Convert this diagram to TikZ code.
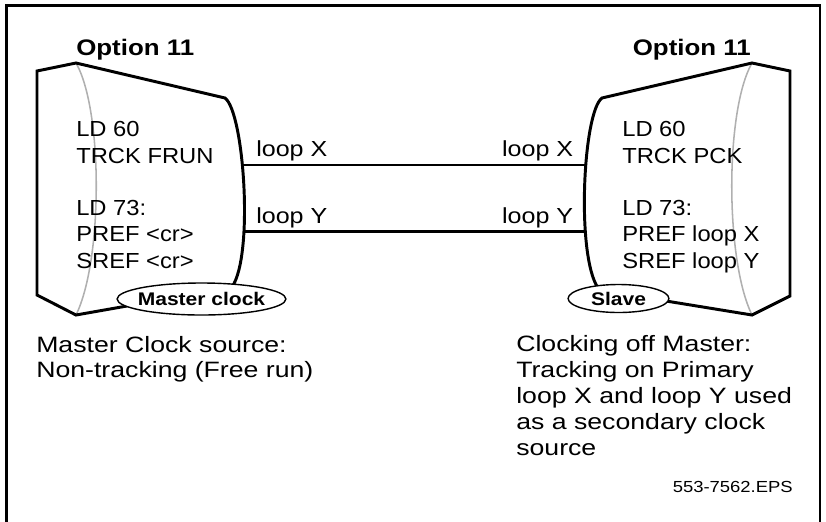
\documentclass[tikz,border=0pt]{standalone}
\usepackage{fontspec}
\setmainfont{Liberation Sans}[FakeStretch=1.15]
\usepackage{xcolor}
\usepackage{tikz}
\definecolor{ArcGray}{HTML}{B0B0B0}

\begin{document}
\begin{tikzpicture}[x=0.025cm,y=-0.025cm,
  shell/.style={line width=2.1pt,line join=miter},
  arcline/.style={ArcGray,line width=1.1pt},
  wire/.style={line width=1.5pt},
  oval/.style={line width=1pt,fill=white},
  txt/.style={inner sep=0pt,align=left,font=\fontsize{15.5}{18.85}\selectfont\addfontfeature{FakeStretch=1.09}},
  lbl/.style={inner sep=0pt,font=\fontsize{15.5}{18.85}\selectfont},
  note/.style={inner sep=0pt,align=left,font=\fontsize{15.8}{18.35}\selectfont\addfontfeature{FakeStretch=1.2}},
  head/.style={inner sep=0pt,font=\bfseries\fontsize{16}{19}\selectfont},
  ovaltxt/.style={inner sep=0pt,font=\bfseries\fontsize{13}{15}\selectfont}]
\path[use as bounding box] (0,0) rectangle (826,521);
\draw[line width=1.9pt] (6.5,530) -- (6.5,5.5) -- (820,5.5) -- (820,530);
% master side
\draw[arcline] (76,63) .. controls (103,110) and (103,260) .. (76,315);
\draw[shell] (127,306) -- (76,315) -- (37,295) -- (37,71) -- (76,63) -- (225,98) .. controls (244,112) and (254,255) .. (232,287);
\draw[oval] (201.5,299) ellipse [x radius=2.11cm,y radius=0.4cm];
\node[ovaltxt] (mclock) at (201.5,299) {Master clock};
\node[head,anchor=base west] (optL) at (76,55) {Option 11};
\node[txt,anchor=base west] (mA) at (76,163) {LD 60\\TRCK FRUN};
\node[txt,anchor=base west] (mB) at (76,268.3) {LD 73:\\PREF <cr>\\SREF <cr>};
% slave side
\draw[arcline] (752,63) .. controls (725,110) and (725,260) .. (752,315);
\draw[shell] (666,301) -- (752,315) -- (790,296) -- (790,71) -- (752,63) -- (602,98) .. controls (583,112) and (576,255) .. (598,288);
\draw[oval] (618.5,298.5) ellipse [x radius=1.26cm,y radius=0.35cm];
\node[ovaltxt] (slave) at (618.5,298.5) {Slave};
\node[head,anchor=base east] (optR) at (751,55) {Option 11};
\node[txt,anchor=base west] (sA) at (622,163) {LD 60\\TRCK PCK};
\node[txt,anchor=base west] (sB) at (622,268.3) {LD 73:\\PREF loop X\\SREF loop Y};
% loops
\coordinate (lx) at (243,165);
\coordinate (rx) at (585,165);
\coordinate (ly) at (245,231.5);
\coordinate (ry) at (585,231.5);
\draw[wire] (lx) -- (rx);
\draw[wire] (ly) -- (ry);
\node[lbl,anchor=base west] (lxl) at (256,156.7) {loop X};
\node[lbl,anchor=base east] (rxl) at (573.5,156.7) {loop X};
\node[lbl,anchor=base west] (lyl) at (256,223.3) {loop Y};
\node[lbl,anchor=base east] (ryl) at (573.5,223.3) {loop Y};
% notes
\node[note,anchor=base west] (mnote) at (36,377.8) {Master Clock source:\\Non-tracking (Free run)};
\node[note,anchor=base west] (snote) at (516,455.2) {Clocking off Master:\\Tracking on Primary\\loop X and loop Y used\\as a secondary clock\\source};
\node[inner sep=0pt,anchor=base east,font=\fontsize{11.4}{13}\selectfont] (eps) at (793,492) {553-7562.EPS};
\end{tikzpicture}
\end{document}
